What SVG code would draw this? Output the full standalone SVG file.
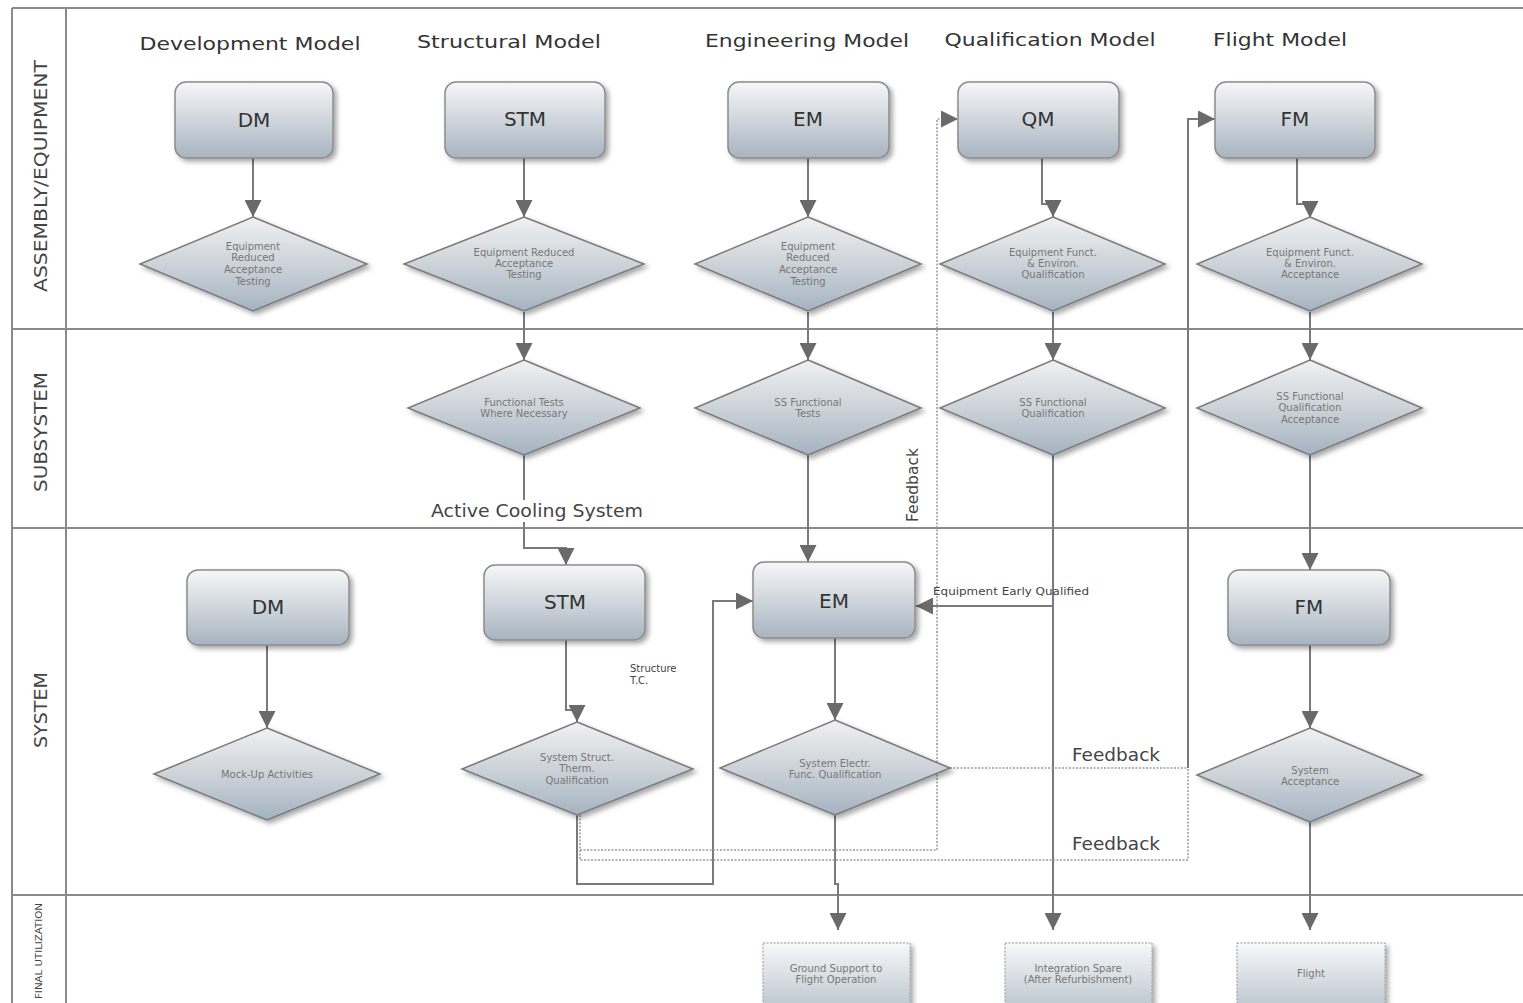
<svg xmlns="http://www.w3.org/2000/svg" width="1523" height="1003" viewBox="0 0 1523 1003">
<defs>
<style>
.lane{stroke:#8a8a8a;stroke-width:2;fill:none}
.lt{font-family:"DejaVu Sans",sans-serif;fill:#444}
.title{font-family:"DejaVu Sans",sans-serif;font-size:18px;fill:#333;text-anchor:middle}
.box{fill:url(#gb);stroke:#8c8c8c;stroke-width:1.5;filter:url(#sh)}
.bl{font-family:"DejaVu Sans",sans-serif;font-size:20px;fill:#333;text-anchor:middle}
.dia{fill:url(#gd);stroke:#7a7a7a;stroke-width:1.5;filter:url(#sh)}
.dt{font-family:"DejaVu Sans",sans-serif;font-size:10px;fill:#777;text-anchor:middle}
.fb{fill:url(#gf);stroke:#999;stroke-width:1;stroke-dasharray:2 1.5;filter:url(#sh)}
.c{fill:none;stroke:#7a7a7a;stroke-width:2}
.d{fill:none;stroke:#9a9a9a;stroke-width:1.5;stroke-dasharray:2 1.5}
.lbl{font-family:"DejaVu Sans",sans-serif;fill:#444}
</style>
<linearGradient id="gb" x1="0" y1="0" x2="0" y2="1">
<stop offset="0" stop-color="#f6f7f8"/><stop offset="1" stop-color="#a8b4c0"/>
</linearGradient>
<linearGradient id="gd" x1="0" y1="0" x2="0" y2="1">
<stop offset="0" stop-color="#f0f1f2"/><stop offset="0.5" stop-color="#cdd3d9"/><stop offset="1" stop-color="#a4b3c1"/>
</linearGradient>
<linearGradient id="gf" x1="0" y1="0" x2="0" y2="1">
<stop offset="0" stop-color="#f7f8f9"/><stop offset="1" stop-color="#bcc6cf"/>
</linearGradient>
<filter id="sh" x="-10%" y="-10%" width="130%" height="140%">
<feDropShadow dx="3" dy="3" stdDeviation="2.5" flood-color="#000" flood-opacity="0.35"/>
</filter>
<marker id="ah" viewBox="0 0 10 10" refX="10" refY="5" markerWidth="17" markerHeight="17" markerUnits="userSpaceOnUse" orient="auto">
<path d="M0,0 L10,5 L0,10 z" fill="#6a6a6a"/>
</marker>
</defs>
<rect width="1523" height="1003" fill="#fff"/>
<g id="lanes">
<path class="lane" d="M12,8 H1523 M12,8 V1003 M66,8 V1003 M12,329 H1523 M12,528 H1523 M12,895 H1523"/>
<text class="lt" font-size="18" transform="translate(47,176) rotate(-90)" text-anchor="middle" textLength="232" lengthAdjust="spacingAndGlyphs">ASSEMBLY/EQUIPMENT</text>
<text class="lt" font-size="18" transform="translate(47,432) rotate(-90)" text-anchor="middle" textLength="120" lengthAdjust="spacingAndGlyphs">SUBSYSTEM</text>
<text class="lt" font-size="18" transform="translate(47,710) rotate(-90)" text-anchor="middle" textLength="76" lengthAdjust="spacingAndGlyphs">SYSTEM</text>
<text class="lt" font-size="9" transform="translate(42,951) rotate(-90)" text-anchor="middle" textLength="96" lengthAdjust="spacingAndGlyphs" fill="#777">FINAL UTILIZATION</text>
</g>
<g id="titles">
<text class="title" x="250" y="50" textLength="221" lengthAdjust="spacingAndGlyphs">Development Model</text>
<text class="title" x="509" y="48" textLength="184" lengthAdjust="spacingAndGlyphs">Structural Model</text>
<text class="title" x="807" y="47" textLength="204" lengthAdjust="spacingAndGlyphs">Engineering Model</text>
<text class="title" x="1050" y="46" textLength="211" lengthAdjust="spacingAndGlyphs">Qualification Model</text>
<text class="title" x="1280" y="46" textLength="134" lengthAdjust="spacingAndGlyphs">Flight Model</text>
</g>
<g id="connectors">
<path class="c" marker-end="url(#ah)" d="M253,158 V217"/>
<path class="c" marker-end="url(#ah)" d="M524,158 V217"/>
<path class="c" marker-end="url(#ah)" d="M808,158 V217"/>
<path class="c" marker-end="url(#ah)" d="M1042,158 V204 H1053 V217"/>
<path class="c" marker-end="url(#ah)" d="M1297,158 V204 H1310 V218"/>
<path class="c" marker-end="url(#ah)" d="M524,312 V360"/>
<path class="c" marker-end="url(#ah)" d="M808,312 V360"/>
<path class="c" marker-end="url(#ah)" d="M1053,312 V360"/>
<path class="c" marker-end="url(#ah)" d="M1310,312 V360"/>
<path class="c" marker-end="url(#ah)" d="M524,455 V548 H566 V565"/>
<path class="c" marker-end="url(#ah)" d="M808,455 V562"/>
<path class="c" marker-end="url(#ah)" d="M1053,455 V930"/>
<path class="c" marker-end="url(#ah)" d="M1053,606 H916"/>
<path class="c" marker-end="url(#ah)" d="M1310,455 V570"/>
<path class="c" marker-end="url(#ah)" d="M267,645 V728"/>
<path class="c" marker-end="url(#ah)" d="M566,640 V710 H577 V722"/>
<path class="c" marker-end="url(#ah)" d="M835,638 V720"/>
<path class="c" marker-end="url(#ah)" d="M1310,645 V728"/>
<path class="c" marker-end="url(#ah)" d="M577,815 V884 H713 V601 H753"/>
<path class="c" marker-end="url(#ah)" d="M835,815 V884 H838 V930"/>
<path class="c" marker-end="url(#ah)" d="M1310,822 V930"/>
<path class="d" marker-end="url(#ah)" d="M580,815 V850 H937 V119 H958"/>
<path class="d" d="M580,850 V860 H1188 V768"/>
<path class="d" d="M950,768 H1188"/>
<path class="c" marker-end="url(#ah)" d="M1188,768 V119 H1215"/>
<rect x="430" y="500" width="215" height="22" fill="#fff"/>
<text class="lbl" font-size="17" x="537" y="517" text-anchor="middle" textLength="212" lengthAdjust="spacingAndGlyphs">Active Cooling System</text>
<text class="lbl" font-size="10" x="933" y="595" textLength="156" lengthAdjust="spacingAndGlyphs" fill="#666">Equipment Early Qualified</text>
<text class="lbl" font-size="10" x="630" y="672" fill="#666">Structure</text>
<text class="lbl" font-size="10" x="630" y="684" fill="#666">T.C.</text>
<text class="lbl" font-size="16" transform="translate(918,485) rotate(-90)" text-anchor="middle" textLength="74" lengthAdjust="spacingAndGlyphs">Feedback</text>
<text class="lbl" font-size="17" x="1116" y="761" text-anchor="middle" textLength="88" lengthAdjust="spacingAndGlyphs">Feedback</text>
<text class="lbl" font-size="17" x="1116" y="850" text-anchor="middle" textLength="88" lengthAdjust="spacingAndGlyphs">Feedback</text>
</g>
<g id="n-dm-top"><rect class="box" x="175" y="82" width="158" height="76" rx="11"/><text class="bl" x="254" y="127">DM</text></g>
<g id="n-stm-top"><rect class="box" x="445" y="82" width="160" height="76" rx="11"/><text class="bl" x="525" y="126">STM</text></g>
<g id="n-em-top"><rect class="box" x="728" y="82" width="161" height="76" rx="11"/><text class="bl" x="808" y="126">EM</text></g>
<g id="n-qm-top"><rect class="box" x="958" y="82" width="161" height="76" rx="11"/><text class="bl" x="1038" y="126">QM</text></g>
<g id="n-fm-top"><rect class="box" x="1215" y="82" width="160" height="76" rx="11"/><text class="bl" x="1295" y="126">FM</text></g>
<g id="n-dm-eq"><path class="dia" d="M253,217 L367,264 L253,311 L140,264 Z"/>
<text class="dt" x="253" y="250">Equipment</text><text class="dt" x="253" y="261">Reduced</text><text class="dt" x="253" y="273">Acceptance</text><text class="dt" x="253" y="285">Testing</text></g>
<g id="n-stm-eq"><path class="dia" d="M524,217 L644,264 L524,311 L404,264 Z"/>
<text class="dt" x="524" y="256">Equipment Reduced</text><text class="dt" x="524" y="267">Acceptance</text><text class="dt" x="524" y="278">Testing</text></g>
<g id="n-em-eq"><path class="dia" d="M808,217 L921,264 L808,311 L695,264 Z"/>
<text class="dt" x="808" y="250">Equipment</text><text class="dt" x="808" y="261">Reduced</text><text class="dt" x="808" y="273">Acceptance</text><text class="dt" x="808" y="285">Testing</text></g>
<g id="n-qm-eq"><path class="dia" d="M1053,217 L1165,264 L1053,311 L940,264 Z"/>
<text class="dt" x="1053" y="256">Equipment Funct.</text><text class="dt" x="1053" y="267">&amp; Environ.</text><text class="dt" x="1053" y="278">Qualification</text></g>
<g id="n-fm-eq"><path class="dia" d="M1310,217 L1422,264 L1310,311 L1197,264 Z"/>
<text class="dt" x="1310" y="256">Equipment Funct.</text><text class="dt" x="1310" y="267">&amp; Environ.</text><text class="dt" x="1310" y="278">Acceptance</text></g>
<g id="n-stm-ss"><path class="dia" d="M524,360 L640,408 L524,455 L408,408 Z"/>
<text class="dt" x="524" y="406">Functional Tests</text><text class="dt" x="524" y="417">Where Necessary</text></g>
<g id="n-em-ss"><path class="dia" d="M808,360 L921,408 L808,455 L695,408 Z"/>
<text class="dt" x="808" y="406">SS Functional</text><text class="dt" x="808" y="417">Tests</text></g>
<g id="n-qm-ss"><path class="dia" d="M1053,360 L1165,408 L1053,455 L940,408 Z"/>
<text class="dt" x="1053" y="406">SS Functional</text><text class="dt" x="1053" y="417">Qualification</text></g>
<g id="n-fm-ss"><path class="dia" d="M1310,360 L1422,408 L1310,455 L1197,408 Z"/>
<text class="dt" x="1310" y="400">SS Functional</text><text class="dt" x="1310" y="411">Qualification</text><text class="dt" x="1310" y="423">Acceptance</text></g>
<g id="n-dm-sys"><rect class="box" x="187" y="570" width="162" height="75" rx="11"/><text class="bl" x="268" y="614">DM</text></g>
<g id="n-stm-sys"><rect class="box" x="484" y="565" width="161" height="75" rx="11"/><text class="bl" x="565" y="609">STM</text></g>
<g id="n-em-sys"><rect class="box" x="753" y="562" width="162" height="76" rx="11"/><text class="bl" x="834" y="608">EM</text></g>
<g id="n-fm-sys"><rect class="box" x="1228" y="570" width="162" height="75" rx="11"/><text class="bl" x="1309" y="614">FM</text></g>
<g id="n-dm-mock"><path class="dia" d="M267,728 L380,774 L267,820 L154,774 Z"/>
<text class="dt" x="267" y="778">Mock-Up Activities</text></g>
<g id="n-stm-q"><path class="dia" d="M577,722 L693,769 L577,815 L462,769 Z"/>
<text class="dt" x="577" y="761">System Struct.</text><text class="dt" x="577" y="772">Therm.</text><text class="dt" x="577" y="784">Qualification</text></g>
<g id="n-em-q"><path class="dia" d="M835,720 L950,768 L835,815 L720,768 Z"/>
<text class="dt" x="835" y="767">System Electr.</text><text class="dt" x="835" y="778">Func. Qualification</text></g>
<g id="n-fm-acc"><path class="dia" d="M1310,728 L1422,775 L1310,822 L1197,775 Z"/>
<text class="dt" x="1310" y="774">System</text><text class="dt" x="1310" y="785">Acceptance</text></g>
<g id="n-ground"><rect class="fb" x="763" y="943" width="147" height="66"/>
<text class="dt" x="836" y="972">Ground Support to</text><text class="dt" x="836" y="983">Flight Operation</text></g>
<g id="n-spare"><rect class="fb" x="1005" y="943" width="147" height="66"/>
<text class="dt" x="1078" y="972">Integration Spare</text><text class="dt" x="1078" y="983">(After Refurbishment)</text></g>
<g id="n-flight"><rect class="fb" x="1237" y="943" width="148" height="66"/>
<text class="dt" x="1311" y="977">Flight</text></g>
</svg>
